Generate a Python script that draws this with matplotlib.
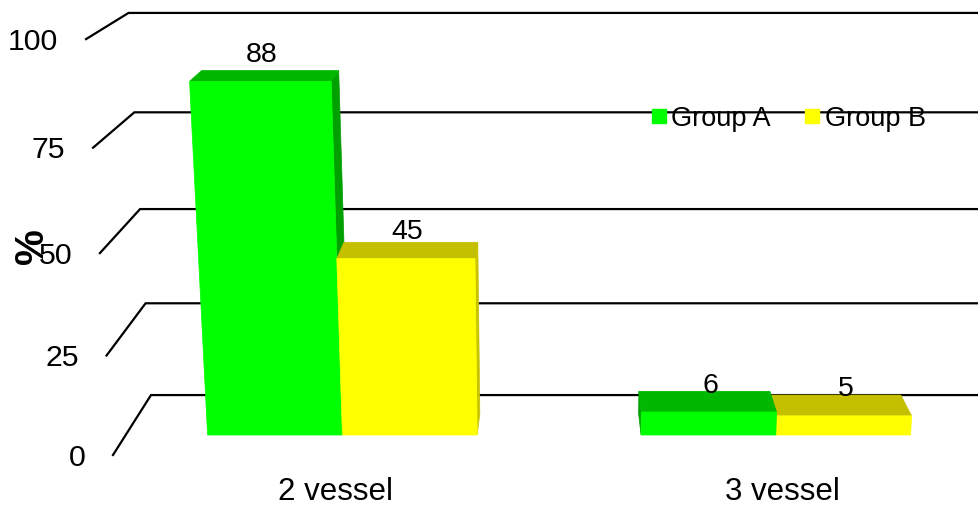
import matplotlib
matplotlib.use("Agg")
import matplotlib.pyplot as plt
from matplotlib.patches import Polygon
from matplotlib.lines import Line2D

plt.rcParams['font.family'] = ['Liberation Sans', 'DejaVu Sans']

categories = ['2 vessel', '3 vessel']
group_a = [88, 6]
group_b = [45, 5]
series_names = ['Group A', 'Group B']
y_ticks = [0, 25, 50, 75, 100]

# face colours: front, top, side
colors_a = ('#00ff00', '#00b800', '#00a000')
colors_b = ('#ffff00', '#c4c000', '#c8c400')

W, H = 979, 508
fig = plt.figure(figsize=(W / 100, H / 100), dpi=100)
ax = fig.add_axes([0, 0, 1, 1])
ax.set_xlim(0, W)
ax.set_ylim(H, 0)
ax.axis('off')

# simple perspective camera (screen space in pixels)
ORIGIN = (113.0, 455.0)      # front-left floor corner
VP_DEPTH = (563.0, -255.0)   # vanishing point of the depth axis
VP_VERT = (563.0, 7400.0)    # vanishing point of the value axis
K_VERT = -0.0565 / 100.0     # perspective weight per value unit
K_DEPTH = 0.0922             # perspective weight for full depth
X_SCALE = 446.0              # pixels per category


def project(x, y, z):
    hx = X_SCALE * x + VP_VERT[0] * K_VERT * y + VP_DEPTH[0] * K_DEPTH * z + ORIGIN[0]
    hy = VP_VERT[1] * K_VERT * y + VP_DEPTH[1] * K_DEPTH * z + ORIGIN[1]
    w = K_VERT * y + K_DEPTH * z + 1.0
    return hx / w, hy / w


def face(pts, color, zorder):
    ax.add_patch(Polygon([project(*p) for p in pts], closed=True,
                         facecolor=color, edgecolor=color, linewidth=0.5,
                         zorder=zorder))


# walls: gridlines on the back wall and the left side wall
x_right = 2.3
for t in y_ticks:
    p0 = project(0, t, 0)
    p1 = project(0, t, 1)
    p2 = project(x_right, t, 1)
    ax.plot([p0[0], p1[0], p2[0]], [p0[1], p1[1], p2[1]], color='black',
            lw=1.6, solid_joinstyle='miter', zorder=1)
    ax.annotate(str(t), xy=p0, xytext=(-20, -2), textcoords='offset points',
                ha='right', va='center', fontsize=21.8)

ax.text(32, 246, '%', rotation=90, ha='center', va='center',
        fontsize=29, fontweight='bold')

# bars
bar_w = 0.311
z0, z1 = 0.314, 0.67
bars = []
for i, cat in enumerate(categories):
    c = i + 0.5
    bars.append((c - bar_w, c, group_a[i], colors_a))
    bars.append((c, c + bar_w, group_b[i], colors_b))

cam_x = VP_DEPTH[0]


def dist(b):
    cx, _ = project((b[0] + b[1]) / 2, 0, z0)
    return abs(cx - cam_x)


for k, (x0, x1, v, cols) in enumerate(sorted(bars, key=dist, reverse=True)):
    zo = 2 + k
    front, top, side = cols
    if project(x1, 0, z0)[0] < cam_x:
        face([(x1, 0, z0), (x1, 0, z1), (x1, v, z1), (x1, v, z0)], side, zo)
    else:
        face([(x0, 0, z0), (x0, 0, z1), (x0, v, z1), (x0, v, z0)], side, zo)
    face([(x0, v, z0), (x1, v, z0), (x1, v, z1), (x0, v, z1)], top, zo)
    face([(x0, 0, z0), (x1, 0, z0), (x1, v, z0), (x0, v, z0)], front, zo)

# value labels above each bar, anchored on the front top edge
for x0, x1, v, cols in bars:
    p = project((x0 + x1) / 2, v, z0)
    ax.annotate(str(v), xy=p, xytext=(1, 19), textcoords='offset points',
                ha='center', va='center', fontsize=20.5, zorder=20)

# category labels
for i, cat in enumerate(categories):
    p = project(i + 0.5, 0, 0)
    ax.annotate(cat, xy=p, xytext=(0, -16), textcoords='offset points',
                ha='center', va='top', fontsize=22.5)

handles = [Line2D([], [], marker='s', linestyle='', markersize=9.5,
                  markerfacecolor=cols[0], markeredgecolor=cols[0])
           for cols in (colors_a, colors_b)]
ax.legend(handles, series_names, loc='center left',
          bbox_to_anchor=(0.663, 0.766), ncol=2, frameon=False,
          fontsize=19.5, handlelength=0.7, handletextpad=0.1,
          columnspacing=1.2, borderpad=0, borderaxespad=0)

fig.savefig('out.png', dpi=100)
